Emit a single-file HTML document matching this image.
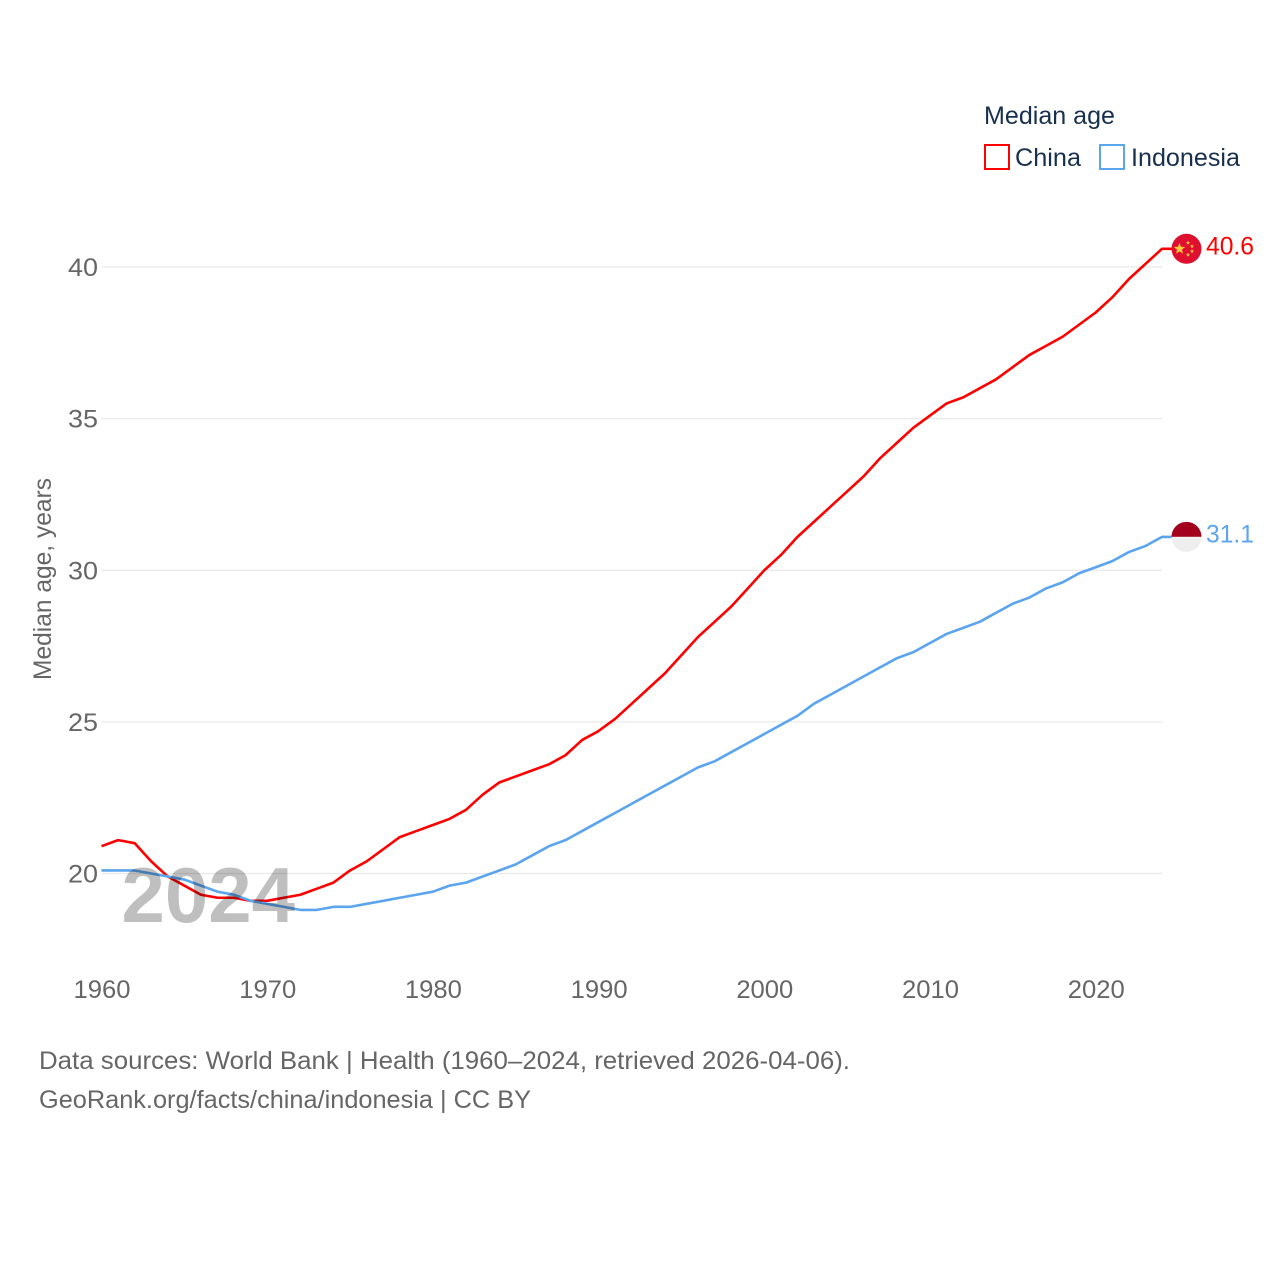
<!DOCTYPE html>
<html lang="en">
<head>
<meta charset="utf-8">
<title>Median age: China and Indonesia</title>
<style>
html,body{margin:0;padding:0;background:#fff;}
svg{display:block;}
text{font-family:"Liberation Sans",sans-serif;font-size:25px;}
</style>
</head>
<body>
<svg id="chart" xmlns="http://www.w3.org/2000/svg" width="1280" height="1280" viewBox="0 0 1280 1280">
  <g id="grid"></g>
  <g id="yticks"></g>
  <g id="xticks"></g>
  <text transform="translate(51,579) rotate(-90)" text-anchor="middle" fill="#666" textLength="202" lengthAdjust="spacingAndGlyphs">Median age, years</text>
  <g id="series"></g>
  <text id="watermark" x="121.5" y="922" fill="#000" fill-opacity="0.25" style="font-size:78px;font-weight:700">2024</text>
  <g id="flags"></g>
  <g>
    <text x="984" y="124" fill="#18304f" textLength="131" lengthAdjust="spacingAndGlyphs">Median age</text>
    <g>
      <rect x="985" y="145" width="24" height="24" fill="none" stroke="#ff0000" stroke-width="2"></rect>
      <text x="1015" y="166" fill="#18304f" textLength="66" lengthAdjust="spacingAndGlyphs">China</text>
    </g>
    <g>
      <rect x="1100" y="145" width="24" height="24" fill="none" stroke="#5ba4ee" stroke-width="2"></rect>
      <text x="1131" y="166" fill="#18304f" textLength="109" lengthAdjust="spacingAndGlyphs">Indonesia</text>
    </g>
  </g>
  <text x="39" y="1069" fill="#666" textLength="811" lengthAdjust="spacingAndGlyphs">Data sources: World Bank | Health (1960–2024, retrieved 2026-04-06).</text>
  <text x="39" y="1108" fill="#666" textLength="492" lengthAdjust="spacingAndGlyphs">GeoRank.org/facts/china/indonesia | CC BY</text>
</svg>
<script>
const years = [1960,1961,1962,1963,1964,1965,1966,1967,1968,1969,1970,1971,1972,1973,1974,1975,1976,1977,1978,1979,1980,1981,1982,1983,1984,1985,1986,1987,1988,1989,1990,1991,1992,1993,1994,1995,1996,1997,1998,1999,2000,2001,2002,2003,2004,2005,2006,2007,2008,2009,2010,2011,2012,2013,2014,2015,2016,2017,2018,2019,2020,2021,2022,2023,2024];
const chinaValues = [20.9,21.1,21.0,20.4,19.9,19.6,19.3,19.2,19.2,19.1,19.1,19.2,19.3,19.5,19.7,20.1,20.4,20.8,21.2,21.4,21.6,21.8,22.1,22.6,23.0,23.2,23.4,23.6,23.9,24.4,24.7,25.1,25.6,26.1,26.6,27.2,27.8,28.3,28.8,29.4,30.0,30.5,31.1,31.6,32.1,32.6,33.1,33.7,34.2,34.7,35.1,35.5,35.7,36.0,36.3,36.7,37.1,37.4,37.7,38.1,38.5,39.0,39.6,40.1,40.6];
const indonesiaValues = [20.1,20.1,20.1,20.0,19.9,19.8,19.6,19.4,19.3,19.1,19.0,18.9,18.8,18.8,18.9,18.9,19.0,19.1,19.2,19.3,19.4,19.6,19.7,19.9,20.1,20.3,20.6,20.9,21.1,21.4,21.7,22.0,22.3,22.6,22.9,23.2,23.5,23.7,24.0,24.3,24.6,24.9,25.2,25.6,25.9,26.2,26.5,26.8,27.1,27.3,27.6,27.9,28.1,28.3,28.6,28.9,29.1,29.4,29.6,29.9,30.1,30.3,30.6,30.8,31.1];
const yTickValues = [20,25,30,35,40];
const xTickValues = [1960,1970,1980,1990,2000,2010,2020];

const NS = 'http://www.w3.org/2000/svg';
function xScale(year){ return 101.5 + (year - 1960) * (1162 - 101.5) / 64; }
function yScale(v){ return 873.5 - (v - 20) * (873.5 - 267) / 20; }
function make(tag, parent, attrs, text){
  const el = document.createElementNS(NS, tag);
  for (const k in attrs) el.setAttribute(k, attrs[k]);
  if (text !== undefined) el.textContent = text;
  parent.appendChild(el);
  return el;
}

const grid = document.getElementById('grid');
const yticks = document.getElementById('yticks');
yTickValues.forEach(function(v){
  const line = make('line', grid, {x1:101.5, x2:1162, y1:yScale(v), y2:yScale(v), stroke:'#e9e9e9', 'stroke-width':1.3});
  
  
  const label = make('text', yticks, {x:98, y:yScale(v) + 9, 'text-anchor':'end', fill:'#666', textLength:30, lengthAdjust:'spacingAndGlyphs'}, String(v));
  
  
});

const xticks = document.getElementById('xticks');
xTickValues.forEach(function(y){
  const label = make('text', xticks, {x:xScale(y) + 0.5, y:998, 'text-anchor':'middle', fill:'#666', textLength:57, lengthAdjust:'spacingAndGlyphs'}, String(y));
  
  
});

const series = document.getElementById('series');
function linePoints(values){
  const pts = values.map(function(v, i){ return xScale(years[i]).toFixed(2) + ',' + yScale(v).toFixed(2); });
  pts.push((xScale(years[years.length - 1]) + 11).toFixed(2) + ',' + yScale(values[values.length - 1]).toFixed(2));
  return pts.join(' ');
}
const chinaLine = make('polyline', series, {points:linePoints(chinaValues), fill:'none', stroke:'#ff0000', 'stroke-width':2.6, 'stroke-linejoin':'round'});


const indonesiaLine = make('polyline', series, {points:linePoints(indonesiaValues), fill:'none', stroke:'#5ba4ee', 'stroke-width':2.6, 'stroke-linejoin':'round'});



const flags = document.getElementById('flags');
const chinaEnd = chinaValues[chinaValues.length - 1];
const indoEnd = indonesiaValues[indonesiaValues.length - 1];
const cx = 1186.5;

function star(px, py, r){
  const pts = [];
  for (let i = 0; i < 10; i++){
    const rad = i % 2 ? r * 0.42 : r;
    const a = -Math.PI / 2 + i * Math.PI / 5;
    pts.push((px + rad * Math.cos(a)).toFixed(2) + ',' + (py + rad * Math.sin(a)).toFixed(2));
  }
  return pts.join(' ');
}

const chinaFlag = make('g', flags, {});


const cy = yScale(chinaEnd);
make('circle', chinaFlag, {cx:cx, cy:cy, r:15, fill:'#de0f2f'});
make('polygon', chinaFlag, {points:star(cx - 7, cy, 6), fill:'#ffc93c'});
make('polygon', chinaFlag, {points:star(cx + 1.5, cy - 6, 2.2), fill:'#ffc93c'});
make('polygon', chinaFlag, {points:star(cx + 5.5, cy - 2.5, 2.2), fill:'#ffc93c'});
make('polygon', chinaFlag, {points:star(cx + 5.5, cy + 2.5, 2.2), fill:'#ffc93c'});
make('polygon', chinaFlag, {points:star(cx + 1.5, cy + 6, 2.2), fill:'#ffc93c'});

const chinaLabel = make('text', flags, {x:1206, y:cy + 5.5, fill:'#ff0000', textLength:48, lengthAdjust:'spacingAndGlyphs'}, chinaEnd.toFixed(1));



const indoFlag = make('g', flags, {});


const iy = yScale(indoEnd);
make('path', indoFlag, {d:'M' + (cx - 15) + ' ' + iy + ' A15 15 0 0 1 ' + (cx + 15) + ' ' + iy + ' Z', fill:'#a2001d'});
make('path', indoFlag, {d:'M' + (cx - 15) + ' ' + iy + ' A15 15 0 0 0 ' + (cx + 15) + ' ' + iy + ' Z', fill:'#eeeeee'});

const indoLabel = make('text', flags, {x:1206, y:iy + 5.5, fill:'#5ba4ee', textLength:48, lengthAdjust:'spacingAndGlyphs'}, indoEnd.toFixed(1));


</script>
</body>
</html>
